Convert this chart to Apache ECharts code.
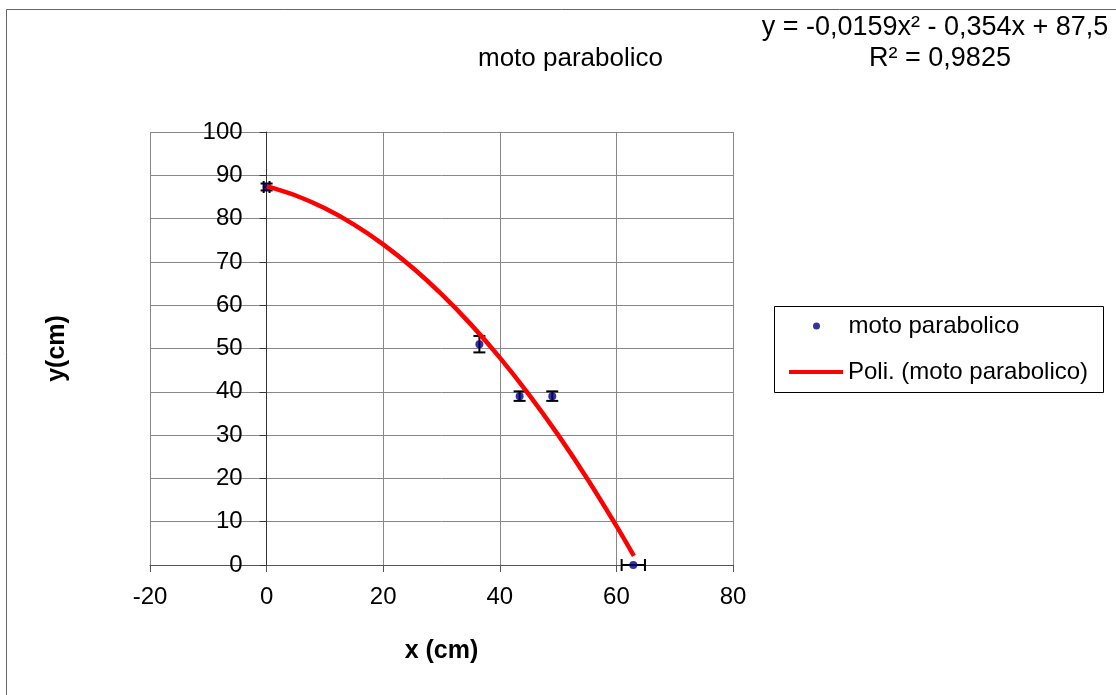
<!DOCTYPE html>
<html>
<head>
<meta charset="utf-8">
<script src="https://cdn.jsdelivr.net/npm/echarts@6/dist/echarts.min.js"></script>
<style>
html,body{margin:0;padding:0;background:#fff;}
#chart{width:1116px;height:695px;}
</style>
</head>
<body>
<div id="chart"></div>
<script>
// measured points (x cm, y cm) with error bars
const pointX = [0, 36.5, 43.4, 49.0, 62.9];
const pointY = [87.3, 51.0, 39.0, 39.0, 0];
const errX = [0.5, 0, 0, 0, 2];
const errY = [0.8, 1.9, 1.1, 1.1, 0];
// polynomial trendline
const trendX = [0, 5, 10, 15, 20, 25, 30, 35, 40, 45, 50, 55, 60, 63];
const trendY = [87.5, 85.33, 82.37, 78.61, 74.06, 68.71, 62.57, 55.63, 47.90, 39.37, 30.05, 19.93, 9.02, 2.09];
const chartTitle = 'moto parabolico';
const seriesName = 'moto parabolico';
const trendName = 'Poli. (moto parabolico)';
const equationLines = ['y = -0,0159x\u00B2 - 0,354x + 87,5', 'R\u00B2 = 0,9825'];
const xName = 'x (cm)';
const yName = 'y(cm)';
const xMin = -20, xMax = 80, xStep = 20;
const yMin = 0, yMax = 100, yStep = 10;

const FONT = '"Liberation Sans", Arial, sans-serif';
const GRID_LEFT = 150, GRID_RIGHT = 383, WIDTH = 1116;
const plotW = WIDTH - GRID_LEFT - GRID_RIGHT;
// y axis crosses at x = 0 (inside the plot)
const yAxisOffset = -plotW * (0 - xMin) / (xMax - xMin);

const chart = echarts.init(document.getElementById('chart'), null, {renderer: 'canvas'});

const scatterData = pointX.map((x, i) => [x, pointY[i]]);
const errData = pointX.map((x, i) => [x, pointY[i], errX[i], errY[i]]);
const trendData = trendX.map((x, i) => [x, trendY[i]]);

function renderErr(params, api) {
  const x = api.value(0), y = api.value(1), ex = api.value(2), ey = api.value(3);
  const cap = 6;
  const style = {stroke: '#000', lineWidth: 2};
  const children = [];
  if (ey > 0) {
    const a = api.coord([x, y - ey]), b = api.coord([x, y + ey]);
    children.push({type: 'line', shape: {x1: a[0], y1: a[1], x2: b[0], y2: b[1]}, style});
    children.push({type: 'line', shape: {x1: a[0] - cap, y1: a[1], x2: a[0] + cap, y2: a[1]}, style});
    children.push({type: 'line', shape: {x1: b[0] - cap, y1: b[1], x2: b[0] + cap, y2: b[1]}, style});
  }
  if (ex > 0) {
    const a = api.coord([x - ex, y]), b = api.coord([x + ex, y]);
    children.push({type: 'line', shape: {x1: a[0], y1: a[1], x2: b[0], y2: b[1]}, style});
    children.push({type: 'line', shape: {x1: a[0], y1: a[1] - cap, x2: a[0], y2: a[1] + cap}, style});
    children.push({type: 'line', shape: {x1: b[0], y1: b[1] - cap, x2: b[0], y2: b[1] + cap}, style});
  }
  return {type: 'group', children};
}

const option = {
  animation: false,
  backgroundColor: '#fff',
  title: {
    text: chartTitle, left: 478, top: 46, padding: 0,
    textStyle: {fontFamily: FONT, fontSize: 26, fontWeight: 'normal', color: '#000'}
  },
  grid: {left: GRID_LEFT, right: GRID_RIGHT, top: 132, bottom: 130, containLabel: false, outerBoundsMode: 'none'},
  xAxis: {
    type: 'value', min: xMin, max: xMax, interval: xStep,
    name: xName, nameLocation: 'middle', nameGap: 74,
    nameTextStyle: {fontFamily: FONT, fontSize: 25, fontWeight: 'bold', color: '#000'},
    axisLine: {onZero: true, lineStyle: {color: '#555', width: 1}},
    axisTick: {show: true, inside: false, length: 7, lineStyle: {color: '#555'}},
    axisLabel: {fontFamily: FONT, fontSize: 24, color: '#000', margin: 20},
    splitLine: {show: true, lineStyle: {color: '#888', width: 1}}
  },
  yAxis: {
    type: 'value', min: yMin, max: yMax, interval: yStep,
    position: 'left', offset: yAxisOffset,
    name: yName, nameLocation: 'middle', nameGap: 197, nameRotate: 90,
    nameTextStyle: {fontFamily: FONT, fontSize: 25, fontWeight: 'bold', color: '#000'},
    axisLine: {onZero: false, lineStyle: {color: '#333', width: 1}},
    axisTick: {show: true, inside: false, length: 7, lineStyle: {color: '#333'}},
    axisLabel: {fontFamily: FONT, fontSize: 24, color: '#000', margin: 24},
    splitLine: {show: true, lineStyle: {color: '#888', width: 1}}
  },
  legend: [
    {
      data: [seriesName], orient: 'vertical', left: 808, top: 309,
      itemWidth: 54, itemHeight: 7, icon: 'circle', padding: 5,
      textStyle: {fontFamily: FONT, fontSize: 24, color: '#000'}, selectedMode: false
    },
    {
      data: [{name: trendName, icon: 'rect'}], orient: 'vertical', left: 784, top: 355,
      itemWidth: 54, itemHeight: 4, padding: 5,
      textStyle: {fontFamily: FONT, fontSize: 24, color: '#000'}, selectedMode: false
    }
  ],
  graphic: [
    {type: 'rect', z: -10, silent: true,
     shape: {x: 6.5, y: 9.5, width: 1300, height: 900},
     style: {fill: null, stroke: '#666', lineWidth: 1}},
    {type: 'rect', z: 1, silent: true,
     shape: {x: 774.5, y: 306.5, width: 329, height: 86},
     style: {fill: null, stroke: '#000', lineWidth: 1}},
    {type: 'text', x: 935, y: 28, silent: true,
     style: {text: equationLines[0], font: '27px ' + FONT, fill: '#000', align: 'center', verticalAlign: 'middle'}},
    {type: 'text', x: 940, y: 59, silent: true,
     style: {text: equationLines[1], font: '27px ' + FONT, fill: '#000', align: 'center', verticalAlign: 'middle'}}
  ],
  series: [
    {
      name: seriesName + ' err', type: 'custom', renderItem: renderErr,
      data: errData, encode: {x: 0, y: 1}, z: 2, silent: true
    },
    {
      name: seriesName, type: 'scatter', data: scatterData,
      symbol: 'circle', symbolSize: 8, itemStyle: {color: '#000080'}, z: 3
    },
    {
      name: trendName, type: 'line', data: trendData, smooth: 0.3,
      symbol: 'none', showSymbol: false,
      lineStyle: {color: '#ff0000', width: 4.5}, itemStyle: {color: '#ff0000'}, z: 4
    }
  ]
};
chart.setOption(option);
</script>
</body>
</html>
